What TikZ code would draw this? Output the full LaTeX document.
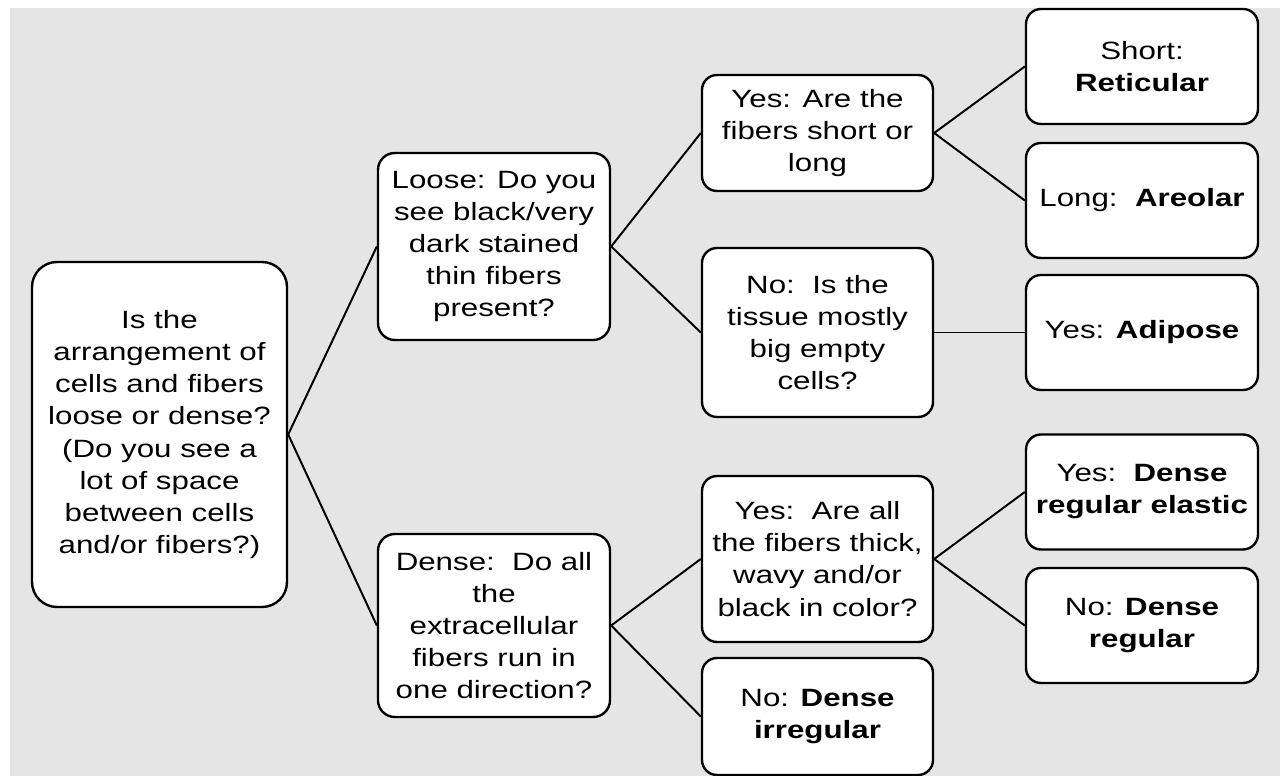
\documentclass[tikz,border=0pt]{standalone}
\usepackage{fontspec}
\setmainfont{Liberation Sans}[FakeStretch=1.25]
\usetikzlibrary{positioning}
\tikzset{>=latex}
\definecolor{bggray}{RGB}{229,229,229}
\tikzset{
  qbox/.style={draw, rectangle, rounded corners=0.375cm, line width=1.7pt, fill=white, align=center, minimum width=5.8cm, minimum height=2.875cm, inner sep=2pt, font=\fontsize{17.8pt}{22.8pt}\selectfont},
  link/.style={line width=1.4pt}
}

\begin{document}
\begin{tikzpicture}
      \useasboundingbox (-3.9875,-8.5375) rectangle (28.0125,10.8625);
      \fill[bggray] (-3.7375,-8.5375) rectangle (28.0125,10.6625);
      \node[qbox, minimum width=6.375cm, minimum height=8.625cm, rounded corners=0.625cm] (root) {Is the\\arrangement of\\cells and fibers\\loose or dense?\\(Do you see a\\lot of space\\between cells\\and/or fibers?)};
      \node[qbox, right of=root, node distance=8.3625cm, yshift=4.7cm, minimum height=4.675cm, rounded corners=0.42cm] (loose) {Loose: Do you\\see black/very\\dark stained\\thin fibers\\present?};
      \node[qbox, below of=loose, node distance=9.475cm, minimum height=4.575cm, rounded corners=0.42cm] (dense) {Dense:\ \ Do all\\the\\extracellular\\fibers run in\\one direction?};
      \node[qbox, right of=loose, node distance=8.0875cm, yshift=2.8375cm, minimum width=5.775cm, minimum height=2.9cm] (yesshort) {Yes: Are the\\fibers short or\\long};
      \node[qbox, below of=yesshort, node distance=4.9875cm, minimum width=5.775cm, minimum height=4.225cm] (noempty) {No:\ \ Is the\\tissue mostly\\big empty\\cells?};
      \node[qbox, right of=dense, node distance=8.0875cm, yshift=1.6625cm, minimum width=5.775cm, minimum height=4.15cm] (yesthick) {Yes:\ \ Are all\\the fibers thick,\\wavy and/or\\black in color?};
      \node[qbox, below of=yesthick, node distance=3.9375cm, minimum width=5.775cm, minimum height=2.925cm] (noirreg) {No: \textbf{Dense}\\\textbf{irregular}};
      \node[qbox, right of=yesshort, node distance=8.1125cm, yshift=1.6625cm] (retic) {Short:\\\textbf{Reticular}};
      \node[qbox, below of=retic, node distance=3.35cm] (areol) {Long:\ \ \textbf{Areolar}};
      \node[qbox, right of=noempty, node distance=8.1125cm] (adip) {Yes: \textbf{Adipose}};
      \node[qbox, right of=yesthick, node distance=8.1125cm, yshift=1.675cm] (elast) {Yes:\ \ \textbf{Dense}\\\textbf{regular elastic}};
      \node[qbox, below of=elast, node distance=3.3375cm] (denreg) {No: \textbf{Dense}\\\textbf{regular}};
      \draw[link] (root.east) -- (loose.west);
      \draw[link] (root.east) -- (dense.west);
      \draw[link] (loose.east) -- (yesshort.west);
      \draw[link] (loose.east) -- (noempty.west);
      \draw[link] (dense.east) -- (yesthick.west);
      \draw[link] (dense.east) -- (noirreg.west);
      \draw[link] (yesshort.east) -- (retic.west);
      \draw[link] (yesshort.east) -- (areol.west);
      \draw[link] (noempty.east) -- (adip.west);
      \draw[link] (yesthick.east) -- (elast.west);
      \draw[link] (yesthick.east) -- (denreg.west);
    \end{tikzpicture}
\end{document}
